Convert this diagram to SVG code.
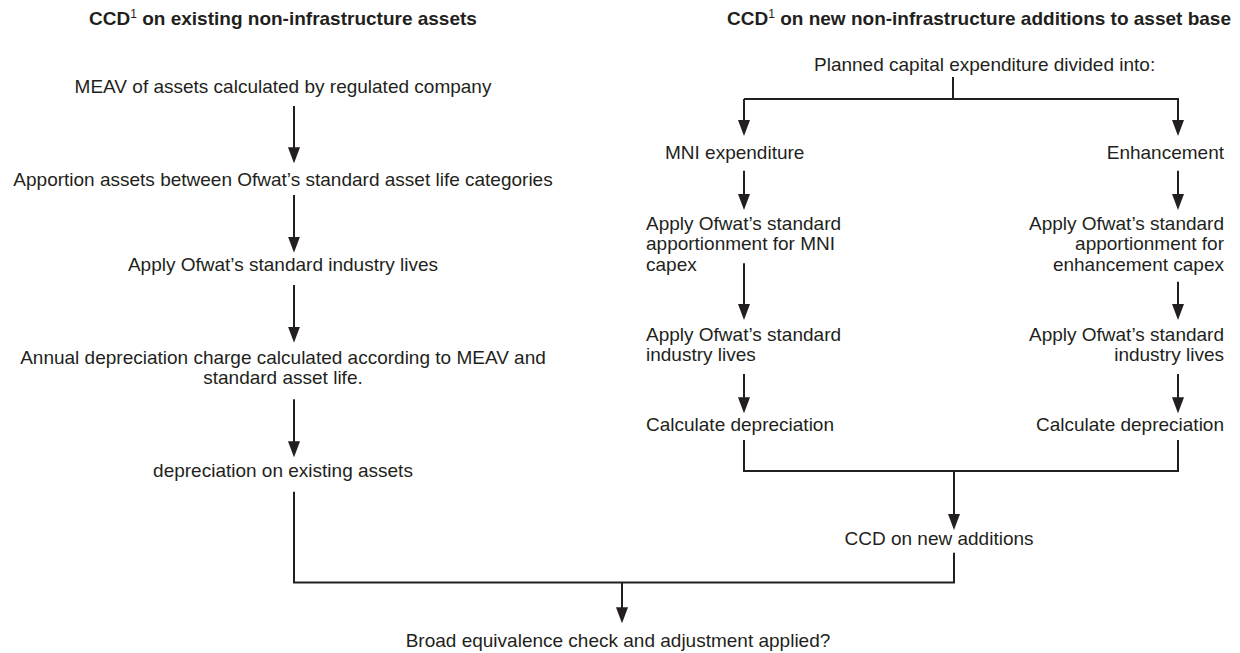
<svg xmlns="http://www.w3.org/2000/svg" width="1240" height="653" viewBox="0 0 1240 653">
<defs>
<style>
text{font-family:"Liberation Sans",Arial,sans-serif;font-size:19px;fill:#231f20}
.h{font-weight:bold}
.s{font-size:12px;font-weight:normal}
.m{text-anchor:middle}
.e{text-anchor:end}
.c line,.c polyline{stroke:#231f20;stroke-width:2;fill:none}
.a{marker-end:url(#ah)}
</style>
<marker id="ah" markerUnits="userSpaceOnUse" markerWidth="16" markerHeight="12" refX="8" refY="6" orient="auto">
<path d="M0,0 L16,6 L0,12 z" fill="#231f20"/>
</marker>
</defs>
<rect width="1240" height="653" fill="#fff"/>
<g id="heading-left"><text class="h m" x="283" y="25">CCD<tspan class="s" dy="-7">1</tspan><tspan dy="7"> on existing non-infrastructure assets</tspan></text></g>
<g id="heading-right"><text class="h e" x="1231" y="25">CCD<tspan class="s" dy="-7">1</tspan><tspan dy="7"> on new non-infrastructure additions to asset base</tspan></text></g>
<g id="meav"><text class="m" x="283" y="93">MEAV of assets calculated by regulated company</text></g>
<g id="apportion"><text class="m" x="283" y="186">Apportion assets between Ofwat’s standard asset life categories</text></g>
<g id="apply-lives"><text class="m" x="283" y="271">Apply Ofwat’s standard industry lives</text></g>
<g id="annual"><text class="m" x="283" y="363.5">Annual depreciation charge calculated according to MEAV and</text><text class="m" x="283" y="383.5">standard asset life.</text></g>
<g id="dep-existing"><text class="m" x="283" y="477">depreciation on existing assets</text></g>
<g id="planned"><text x="814" y="70.7">Planned capital expenditure divided into:</text></g>
<g id="mni"><text x="665" y="159">MNI expenditure</text></g>
<g id="enh"><text class="e" x="1224" y="159">Enhancement</text></g>
<g id="mni-app"><text x="646" y="229.5">Apply Ofwat’s standard</text><text x="646" y="250">apportionment for MNI</text><text x="646" y="270.5">capex</text></g>
<g id="enh-app"><text class="e" x="1224" y="229.5">Apply Ofwat’s standard</text><text class="e" x="1224" y="250">apportionment for</text><text class="e" x="1224" y="270.5">enhancement capex</text></g>
<g id="mni-lives"><text x="646" y="341">Apply Ofwat’s standard</text><text x="646" y="361">industry lives</text></g>
<g id="enh-lives"><text class="e" x="1224" y="341">Apply Ofwat’s standard</text><text class="e" x="1224" y="361">industry lives</text></g>
<g id="mni-dep"><text x="646" y="431">Calculate depreciation</text></g>
<g id="enh-dep"><text class="e" x="1224" y="431">Calculate depreciation</text></g>
<g id="ccd-new"><text class="m" x="939" y="545">CCD on new additions</text></g>
<g id="broad"><text class="m" x="618" y="647">Broad equivalence check and adjustment applied?</text></g>
<g id="connectors" class="c">
<line class="a" x1="294" y1="106" x2="294" y2="155.3"/>
<line class="a" x1="294" y1="195" x2="294" y2="244.7"/>
<line class="a" x1="294" y1="285" x2="294" y2="334.7"/>
<line class="a" x1="294" y1="399.3" x2="294" y2="449.3"/>
<polyline points="294,491.7 294,582.5 954,582.5 954,552.7"/>
<line class="a" x1="622" y1="582.5" x2="622" y2="615.3"/>
<line x1="953" y1="77" x2="953" y2="99"/>
<polyline class="a" points="744,99 1178,99 1178,128"/>
<line class="a" x1="744" y1="99" x2="744" y2="128"/>
<line class="a" x1="744" y1="170.7" x2="744" y2="202"/>
<line class="a" x1="1178" y1="170.7" x2="1178" y2="202"/>
<line class="a" x1="744" y1="263.3" x2="744" y2="312"/>
<line class="a" x1="1178" y1="281.7" x2="1178" y2="312"/>
<line class="a" x1="744" y1="374" x2="744" y2="405.3"/>
<line class="a" x1="1178" y1="374" x2="1178" y2="405.3"/>
<polyline points="744,440 744,471 1178,471 1178,440"/>
<line class="a" x1="954" y1="471" x2="954" y2="522"/>
</g>
</svg>
